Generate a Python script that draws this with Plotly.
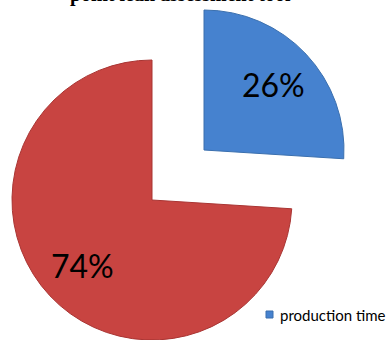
import math
import plotly.graph_objects as go

# Share of time per category
labels = ["production time", "non-production time"]
values = [26, 74]
slice_colors = ["#4682cf", "#c84441"]
edge_colors = ["#3a6fae", "#a93533"]
title_text = "point lean assessment tool"
legend_text = "production time"

W, H = 387, 340
R = 140                      # pie radius in px
main_center = (152, 200)     # px from top-left
pulled_center = (204, 150)   # exploded slice centre
LABEL_RADIUS = 0.68          # label distance along the slice bisector


def domain(cx, cy):
    return dict(
        x=[(cx - R) / W, (cx + R) / W],
        y=[(H - cy - R) / H, (H - cy + R) / H],
    )


clear = "rgba(0,0,0,0)"
text_font = dict(family="Lato", size=32, color="black")

fig = go.Figure()

# body of the pie: the non-production share
fig.add_trace(go.Pie(
    labels=labels, values=values, sort=False, direction="clockwise", rotation=0,
    domain=domain(*main_center),
    marker=dict(colors=[clear, slice_colors[1]],
                line=dict(color=[clear, edge_colors[1]], width=1)),
    textinfo="none", showlegend=False, hoverinfo="skip",
))

# exploded slice: the production share
fig.add_trace(go.Pie(
    labels=labels, values=values, sort=False, direction="clockwise", rotation=0,
    domain=domain(*pulled_center),
    marker=dict(colors=[slice_colors[0], clear],
                line=dict(color=[edge_colors[0], clear], width=1)),
    textinfo="none", showlegend=False, hoverinfo="skip",
))

# percentage labels, placed along each slice's bisector
total = sum(values)
start = 0.0
for i, v in enumerate(values):
    frac = v / total
    mid = (start + frac / 2) * 2 * math.pi      # clockwise from 12 o'clock
    start += frac
    cx, cy = pulled_center if i == 0 else main_center
    px = cx + LABEL_RADIUS * R * math.sin(mid)
    py = cy - LABEL_RADIUS * R * math.cos(mid)
    fig.add_annotation(text=f"{round(frac * 100)}%", xref="paper", yref="paper",
                       x=px / W, y=(H - py) / H, xanchor="center", yanchor="middle",
                       showarrow=False, font=text_font)

# legend swatch and label
fig.add_shape(type="rect", xref="paper", yref="paper",
              x0=266 / W, x1=273 / W, y0=(H - 318) / H, y1=(H - 311) / H,
              fillcolor=slice_colors[0], line=dict(color=edge_colors[0], width=1))
fig.add_annotation(text=legend_text, xref="paper", yref="paper",
                   x=278 / W, y=(H - 315) / H, xanchor="left", yanchor="middle",
                   showarrow=False, font=dict(family="Lato", size=15, color="black"))

# title (sits mostly above the visible area)
fig.add_annotation(text="<b>" + title_text + "</b>", xref="paper", yref="paper",
                   x=180 / W, y=(H - 8) / H, xanchor="center", yanchor="bottom",
                   showarrow=False,
                   font=dict(family="Liberation Serif", size=20, color="black"))

fig.update_layout(
    width=W, height=H,
    margin=dict(l=0, r=0, t=0, b=0),
    paper_bgcolor="white", plot_bgcolor="white",
)

fig.write_html("out.html")
